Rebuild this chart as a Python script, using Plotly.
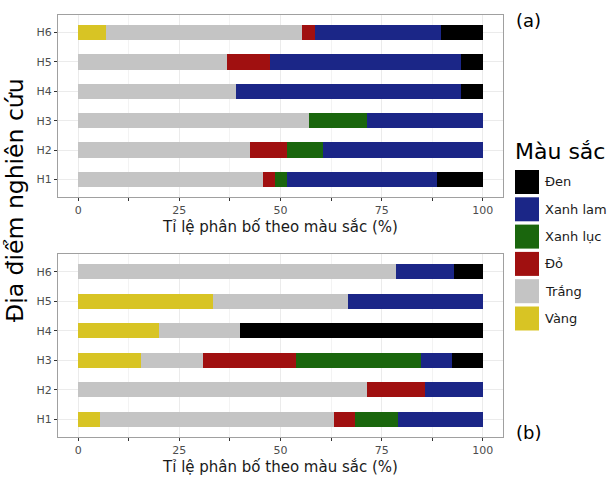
import plotly.graph_objects as go

W, H = 609, 478

sites = ["H1", "H2", "H3", "H4", "H5", "H6"]
color_names = ["Vàng", "Trắng", "Đỏ", "Xanh lục", "Xanh lam", "Đen"]
fill_colors = ["#D8C424", "#C4C4C4", "#A01010", "#1A660D", "#1B2687", "#000000"]

# Panel (a): share (%) of each colour per site
vang_a = [0, 0, 0, 0, 0, 6.9]
trang_a = [45.7, 42.4, 57.1, 38.9, 36.8, 48.3]
do_a = [2.9, 9.1, 0, 0, 10.5, 3.4]
luc_a = [2.9, 9.1, 14.3, 0, 0, 0]
lam_a = [37.1, 39.4, 28.6, 55.6, 47.4, 31.0]
den_a = [11.4, 0, 0, 5.5, 5.3, 10.4]

# Panel (b)
vang_b = [5.3, 0, 15.4, 20, 33.3, 0]
trang_b = [57.9, 71.4, 15.4, 20, 33.3, 78.6]
do_b = [5.3, 14.3, 23.1, 0, 0, 0]
luc_b = [10.5, 0, 30.8, 0, 0, 0]
lam_b = [21.0, 14.3, 7.7, 0, 33.4, 14.3]
den_b = [0, 0, 7.6, 60, 0, 7.1]

x_ticks = [0, 25, 50, 75, 100]
x_title = "Tỉ lệ phân bố theo màu sắc (%)"
y_title = "Địa điểm nghiên cứu"
legend_title = "Màu sắc"
legend_order = ["Đen", "Xanh lam", "Xanh lục", "Đỏ", "Trắng", "Vàng"]

FONT = "DejaVu Sans"

fig = go.Figure()

panels = [
    ([vang_a, trang_a, do_a, luc_a, lam_a, den_a], "x", "y"),
    ([vang_b, trang_b, do_b, luc_b, lam_b, den_b], "x2", "y2"),
]
for series, xa, ya in panels:
    for name, vals, col in zip(color_names, series, fill_colors):
        fig.add_trace(go.Bar(
            y=sites, x=vals, orientation="h", name=name,
            marker=dict(color=col, line=dict(width=0)),
            width=0.52, xaxis=xa, yaxis=ya, showlegend=False,
            hovertemplate="%{y}: %{x}%<extra>" + name + "</extra>",
        ))


def px_x(p):
    return p / W


def px_y(p):
    return 1 - p / H


x_dom = [px_x(58), px_x(503)]
top_dom = [px_y(197), px_y(15)]
bot_dom = [px_y(437), px_y(254)]

xaxis_style = dict(
    range=[-5, 105], tickvals=x_ticks, ticks="outside", ticklen=3,
    tickcolor="#333333", tickwidth=1,
    tickfont=dict(family=FONT, size=11, color="#4D4D4D"),
    showgrid=True, gridcolor="#EBEBEB", gridwidth=1,
    minor=dict(dtick=12.5, tick0=0, showgrid=True, gridcolor="#F3F3F3",
               gridwidth=0.6, ticks="outside", ticklen=3, tickcolor="#333333"),
    showline=True, linecolor="#A0A0A0", linewidth=1.2, mirror=True,
    zeroline=False, domain=x_dom,
    title=dict(text=x_title, font=dict(family=FONT, size=15, color="#1A1A1A"),
               standoff=5),
)
yaxis_style = dict(
    type="category", categoryorder="array", categoryarray=sites,
    range=[-0.6, 5.6], ticks="outside", ticklen=3, tickcolor="#333333",
    tickfont=dict(family=FONT, size=11, color="#4D4D4D"),
    showgrid=True, gridcolor="#EBEBEB", gridwidth=1,
    showline=True, linecolor="#A0A0A0", linewidth=1.2, mirror=True,
    zeroline=False,
)

fig.update_layout(
    width=W, height=H,
    margin=dict(l=0, r=0, t=0, b=0),
    paper_bgcolor="white", plot_bgcolor="white",
    barmode="stack", bargap=0.48,
    font=dict(family=FONT),
    xaxis=dict(xaxis_style, anchor="y"),
    yaxis=dict(yaxis_style, domain=top_dom, anchor="x"),
    xaxis2=dict(xaxis_style, anchor="y2"),
    yaxis2=dict(yaxis_style, domain=bot_dom, anchor="x2"),
)

annotations = [
    dict(text=y_title, x=px_x(15), y=px_y(200), xref="paper", yref="paper",
         textangle=-90, showarrow=False, xanchor="center", yanchor="middle",
         font=dict(family=FONT, size=23.5, color="#000000")),
    dict(text="(a)", x=px_x(514), y=px_y(20), xref="paper", yref="paper",
         showarrow=False, xanchor="left", yanchor="middle",
         font=dict(family=FONT, size=18, color="#000000")),
    dict(text="(b)", x=px_x(514), y=px_y(432), xref="paper", yref="paper",
         showarrow=False, xanchor="left", yanchor="middle",
         font=dict(family=FONT, size=18, color="#000000")),
    dict(text=legend_title, x=px_x(513), y=px_y(152), xref="paper", yref="paper",
         showarrow=False, xanchor="left", yanchor="middle",
         font=dict(family=FONT, size=22, color="#000000")),
]

# Legend keys drawn as squares with labels
shapes = []
key_top, key_step, key_size = 170, 27.3, 24
name_to_color = dict(zip(color_names, fill_colors))
for i, nm in enumerate(legend_order):
    y0 = key_top + i * key_step
    shapes.append(dict(type="rect", xref="paper", yref="paper",
                       x0=px_x(515), x1=px_x(515 + key_size),
                       y0=px_y(y0 + key_size), y1=px_y(y0),
                       fillcolor=name_to_color[nm], line=dict(width=0)))
    annotations.append(dict(text=nm, x=px_x(543), y=px_y(y0 + key_size / 2),
                            xref="paper", yref="paper", showarrow=False,
                            xanchor="left", yanchor="middle",
                            font=dict(family=FONT, size=13, color="#1A1A1A")))

fig.update_layout(annotations=annotations, shapes=shapes)

fig.write_html("out.html")
